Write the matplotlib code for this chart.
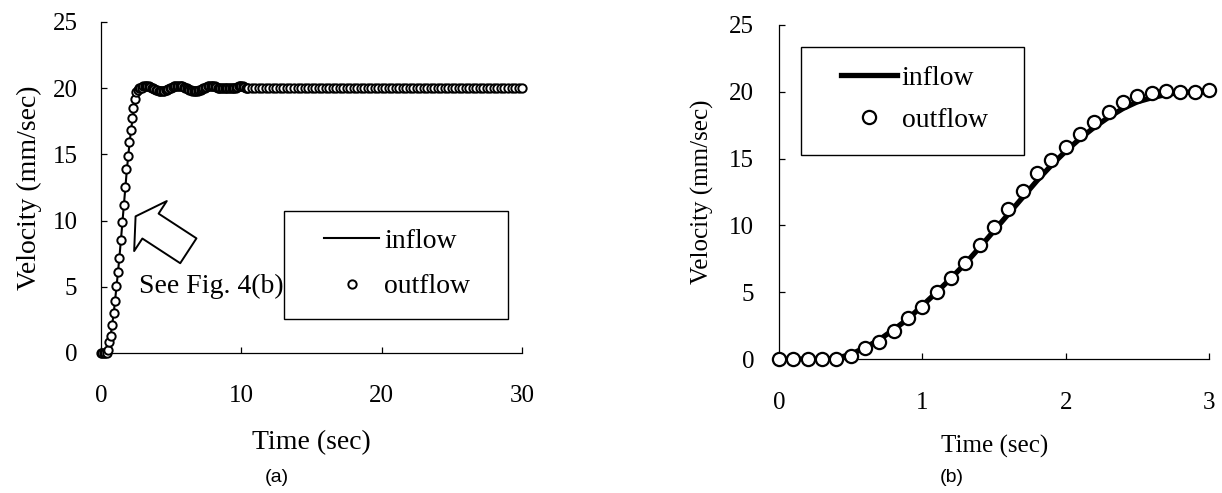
import numpy as np
import matplotlib
matplotlib.use('Agg')
import matplotlib.pyplot as plt
from matplotlib.patches import Rectangle

plt.rcParams['font.family'] = ['Liberation Serif', 'DejaVu Serif']

# --- start-up (first 3 s), sampled every 0.1 s ---
time_start = [0.0, 0.1, 0.2, 0.3, 0.4, 0.5, 0.6, 0.7, 0.8, 0.9, 1.0,
              1.1, 1.2, 1.3, 1.4, 1.5, 1.6, 1.7, 1.8, 1.9, 2.0,
              2.1, 2.2, 2.3, 2.4, 2.5, 2.6, 2.7, 2.8, 2.9, 3.0]
outflow_start = [0.0, 0.0, 0.0, 0.0, 0.0, 0.25, 0.8, 1.3, 2.1, 3.05, 3.9,
                 5.05, 6.1, 7.2, 8.5, 9.9, 11.2, 12.55, 13.9, 14.9, 15.9,
                 16.85, 17.75, 18.5, 19.2, 19.7, 19.9, 20.05, 20.0, 20.0, 20.15]
inflow_start = [0.0, 0.0, 0.0, 0.0, 0.05, 0.35, 0.85, 1.45, 2.2, 3.0, 4.0,
                5.0, 6.05, 7.15, 8.35, 9.6, 10.85, 12.1, 13.35, 14.5, 15.55,
                16.5, 17.35, 18.1, 18.75, 19.25, 19.55, 19.8, 19.95, 20.0, 20.05]

# --- settling after start-up, 3.1 .. 10.5 s every 0.1 s ---
outflow_settle = [20.2, 20.2, 20.2, 20.15, 20.1,
                  20.05, 20.0, 19.95, 19.9, 19.85,
                  19.8, 19.8, 19.8, 19.8, 19.8,
                  19.85, 19.9, 19.95, 20.0, 20.05,
                  20.1, 20.15, 20.2, 20.2, 20.2,
                  20.2, 20.2, 20.15, 20.1, 20.05,
                  20.0, 19.95, 19.9, 19.85, 19.8,
                  19.8, 19.8, 19.8, 19.8, 19.85,
                  19.9, 19.95, 20.0, 20.05, 20.1,
                  20.15, 20.2, 20.2, 20.2, 20.2,
                  20.15, 20.1, 20.05, 20.0, 20.0,
                  20.0, 20.0, 20.0, 20.0, 20.0,
                  20.0, 20.0, 20.0, 20.0, 20.0,
                  20.05, 20.1, 20.15, 20.2, 20.2,
                  20.15, 20.1, 20.05, 20.0, 20.0]
# --- steady state, 10.75 .. 30 s every 0.25 s ---
outflow_steady = [20.0, 20.0, 20.0, 20.0, 20.0, 20.0, 20.0, 20.0, 20.0, 20.0,
                  20.0, 20.0, 20.0, 20.0, 20.0, 20.0, 20.0, 20.0, 20.0, 20.0,
                  20.0, 20.0, 20.0, 20.0, 20.0, 20.0, 20.0, 20.0, 20.0, 20.0,
                  20.0, 20.0, 20.0, 20.0, 20.0, 20.0, 20.0, 20.0, 20.0, 20.0,
                  20.0, 20.0, 20.0, 20.0, 20.0, 20.0, 20.0, 20.0, 20.0, 20.0,
                  20.0, 20.0, 20.0, 20.0, 20.0, 20.0, 20.0, 20.0, 20.0, 20.0,
                  20.0, 20.0, 20.0, 20.0, 20.0, 20.0, 20.0, 20.0, 20.0, 20.0,
                  20.0, 20.0, 20.0, 20.0, 20.0, 20.0, 20.0, 20.0]
time_settle = np.round(np.arange(3.1, 10.55, 0.1), 2)
time_steady = np.round(np.arange(10.75, 30.01, 0.25), 2)

# inflow holds 20 mm/sec once the ramp is over
inflow_end_time = [30.0]
inflow_end = [20.0]

x_ticks_a = [0, 10, 20, 30]
x_ticks_b = [0, 1, 2, 3]
y_ticks = [0, 5, 10, 15, 20, 25]


def style_axes(ax, xpad, ypad):
    for side in ('top', 'right'):
        ax.spines[side].set_visible(False)
    for side in ('left', 'bottom'):
        ax.spines[side].set_linewidth(0.9)
    ax.tick_params(direction='in', length=4.5, width=0.9, labelsize=18)
    ax.tick_params(axis='x', pad=xpad)
    ax.tick_params(axis='y', pad=ypad)
    ax.set_yticks(y_ticks)
    ax.set_ylim(0, 25)


def main():
    fig = plt.figure(figsize=(12.22, 4.93), dpi=100)

    # ---------- (a) full 30 s record ----------
    ax1 = fig.add_axes([0.0827, 0.2840, 0.3445, 0.6714])
    t_out = np.concatenate([time_start, time_settle, time_steady])
    v_out = np.concatenate([outflow_start, outflow_settle, outflow_steady])
    t_in = time_start + inflow_end_time
    v_in = inflow_start + inflow_end

    ax1.plot(t_in, v_in, color='black', lw=1.5, label='inflow', zorder=2)
    ax1.plot(t_out, v_out, ls='none', marker='o', ms=6, mfc='white',
             mec='black', mew=1.4, label='outflow', zorder=3, clip_on=False)
    style_axes(ax1, xpad=23, ypad=17)
    ax1.set_xlim(0, 30)
    ax1.set_xticks(x_ticks_a)
    ax1.set_xlabel('Time (sec)', fontsize=20)
    ax1.xaxis.set_label_coords(0.5, -0.233)
    ax1.set_ylabel('Velocity (mm/sec)', fontsize=20, va='center')
    ax1.yaxis.set_label_coords(-0.169, 0.5)

    # hollow arrow pointing at the start-up ramp
    ax1.annotate('', xy=(2.46, 10.32), xytext=(6.22, 7.72),
                 arrowprops=dict(arrowstyle='simple,head_width=4.3,head_length=1.28,tail_width=2.14',
                                 mutation_scale=10, fc='white', ec='black', lw=1.4,
                                 shrinkA=0, shrinkB=0))
    ax1.text(2.7, 5.05, 'See Fig. 4(b)', fontsize=20, ha='left', va='center')

    ax1.legend(loc='center left', bbox_to_anchor=(0.5297, 0.2689),
               frameon=False, fontsize=20, borderpad=0, borderaxespad=0,
               handlelength=1.98, handletextpad=0.18, labelspacing=0.72)
    ax1.add_patch(Rectangle((0.4347, 0.1027), 0.532, 0.3263, transform=ax1.transAxes,
                            fill=False, ec='black', lw=1.0, clip_on=False))

    # ---------- (b) first 3 s ----------
    ax2 = fig.add_axes([0.6375, 0.2718, 0.3519, 0.6775])
    ax2.plot(time_start, inflow_start, color='black', lw=3.8, label='inflow', zorder=2)
    ax2.plot(time_start, outflow_start, ls='none', marker='o', ms=9.5, mfc='white',
             mec='black', mew=1.6, label='outflow', zorder=3, clip_on=False)
    style_axes(ax2, xpad=24, ypad=18)
    ax2.set_xlim(0, 3)
    ax2.set_xticks(x_ticks_b)
    ax2.set_xlabel('Time (sec)', fontsize=18)
    ax2.xaxis.set_label_coords(0.501, -0.2275)
    ax2.set_ylabel('Velocity (mm/sec)', fontsize=18, va='center')
    ax2.yaxis.set_label_coords(-0.179, 0.5)

    ax2.legend(loc='center left', bbox_to_anchor=(0.1442, 0.7784),
               frameon=False, fontsize=20, borderpad=0, borderaxespad=0,
               handlelength=2.0, handletextpad=0.18, labelspacing=0.58)
    ax2.add_patch(Rectangle((0.0512, 0.6108), 0.5186, 0.3233, transform=ax2.transAxes,
                            fill=False, ec='black', lw=1.0, clip_on=False))

    # panel captions
    fig.text(276.7 / 1222, 1 - 478 / 493, '(a)', fontsize=14, family='Liberation Sans',
             ha='center', va='center')
    fig.text(951.5 / 1222, 1 - 477 / 493, '(b)', fontsize=14, family='Liberation Sans',
             ha='center', va='center')

    fig.savefig('out.png', dpi=100)


if __name__ == '__main__':
    main()
